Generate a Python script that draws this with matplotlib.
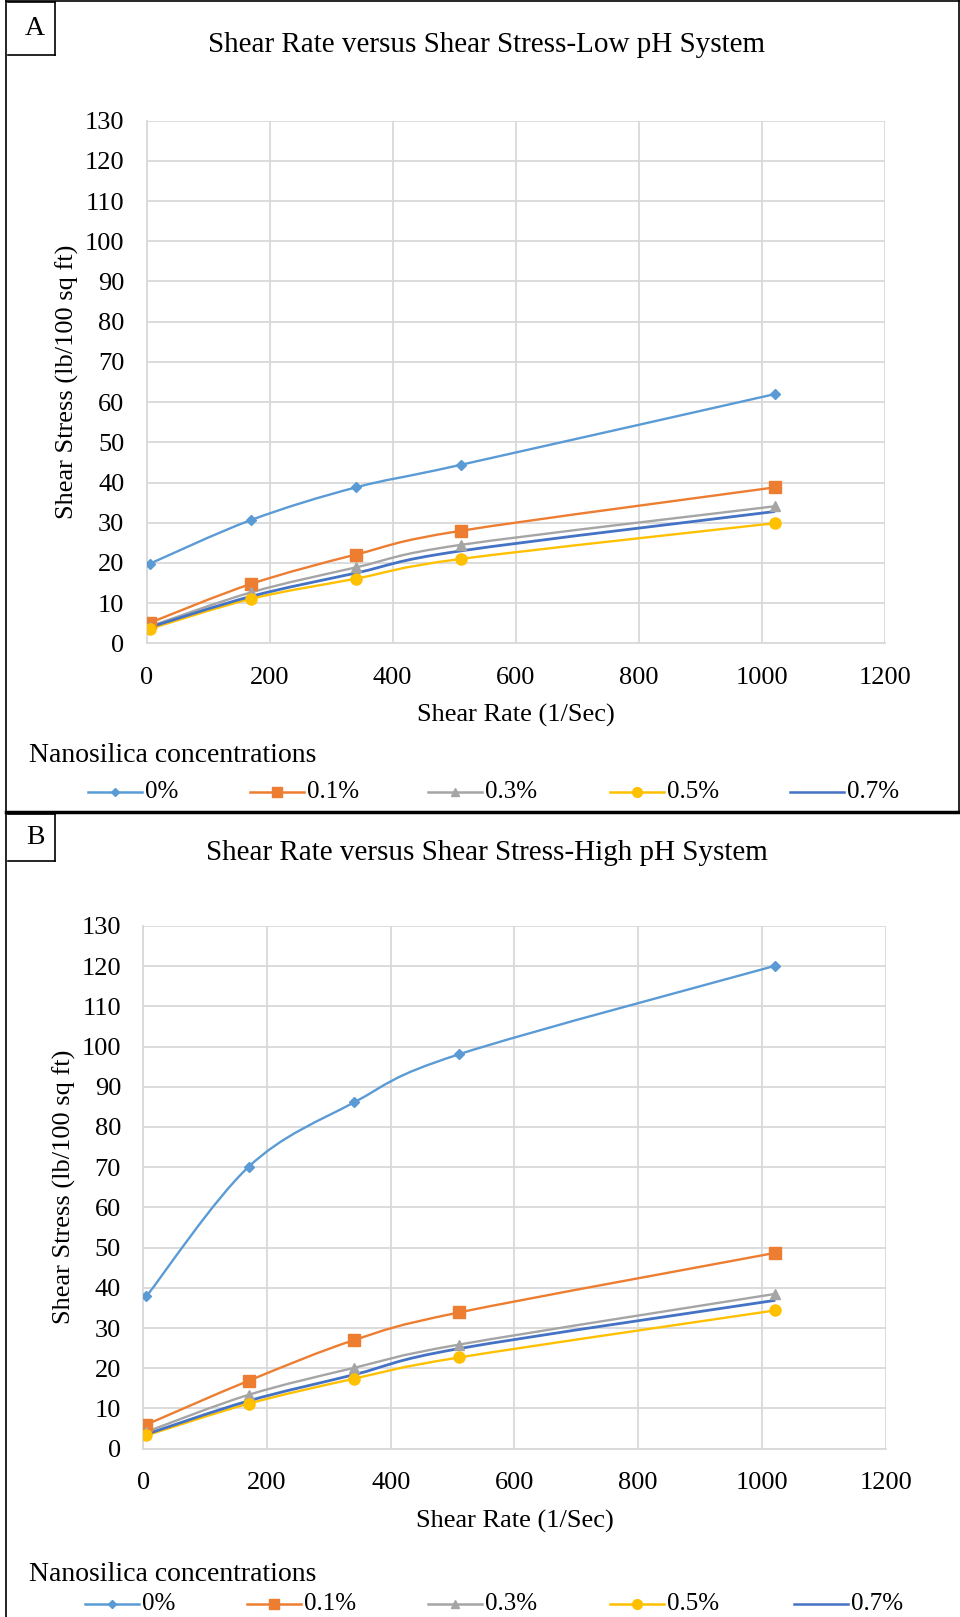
import numpy as np
import matplotlib
matplotlib.use("Agg")
import matplotlib.pyplot as plt
from matplotlib.path import Path
from matplotlib.patches import PathPatch
from matplotlib.lines import Line2D

plt.rcParams['font.family'] = ['Liberation Serif', 'DejaVu Serif']

# shear rates (1/sec)
shear_rate = [5.11, 170.3, 340.6, 510.9, 1021.8]
labels = ['0%', '0.1%', '0.3%', '0.5%', '0.7%']

# low pH system
low_0 = [19.8, 30.7, 38.8, 44.4, 62.0]
low_01 = [5.1, 14.8, 22.1, 28.0, 38.8]
low_03 = [4.2, 12.7, 18.9, 24.5, 34.1]
low_05 = [3.6, 11.1, 16.1, 21.0, 29.9]
low_07 = [4.0, 11.7, 17.5, 23.0, 32.8]

# high pH system
high_0 = [37.9, 70.1, 86.1, 98.1, 120.1]
high_01 = [6.0, 16.9, 27.0, 33.9, 48.7]
high_03 = [4.2, 13.4, 20.1, 25.9, 38.5]
high_05 = [3.3, 11.2, 17.4, 22.7, 34.4]
high_07 = [3.6, 11.9, 18.4, 24.9, 36.9]

colors = ['#5B9BD5', '#ED7D31', '#A5A5A5', '#FFC000', '#4472C4']
markers = ['D', 's', '^', 'o', None]
msizes = [5, 8, 7, 8, 0]


def smooth_path(x, y):
    # excel-like smoothed line: catmull-rom as cubic bezier segments
    x = np.asarray(x, float)
    y = np.asarray(y, float)
    pts = np.column_stack([x, y])
    n = len(pts)
    verts = [pts[0]]
    codes = [Path.MOVETO]
    for i in range(n - 1):
        p0 = pts[i - 1] if i > 0 else pts[i]
        p1 = pts[i]
        p2 = pts[i + 1]
        p3 = pts[i + 2] if i + 2 < n else pts[i + 1]
        c1 = p1 + (p2 - p0) / 6.0
        c2 = p2 - (p3 - p1) / 6.0
        verts += [c1, c2, p2]
        codes += [Path.CURVE4] * 3
    return Path(verts, codes)


def draw_panel(ax, series):
    for vals, c, m, ms in zip(series, colors, markers, msizes):
        lw = 2.0 if c == '#4472C4' else 1.7
        ax.add_patch(PathPatch(smooth_path(shear_rate, vals), fill=False,
                               edgecolor=c, lw=lw, zorder=3))
        if m is not None:
            ax.plot(shear_rate, vals, ls='none', marker=m, ms=ms, color=c,
                    zorder=4)
    ax.set_xlim(0, 1200)
    ax.set_ylim(0, 130)
    ax.set_xticks(range(0, 1201, 200))
    ax.set_yticks(range(0, 131, 10))
    ax.grid(True, color='#D9D9D9', lw=1.3)
    ax.set_axisbelow(True)
    for s in ['top', 'right']:
        ax.spines[s].set_visible(False)
    for s in ['left', 'bottom']:
        ax.spines[s].set_color('#D9D9D9')
        ax.spines[s].set_linewidth(1.3)
    ax.tick_params(length=0, labelsize=19)
    ax.tick_params(axis='x', pad=17)
    ax.tick_params(axis='y', pad=16)
    ax.set_xlabel('Shear Rate (1/Sec)', fontsize=19, labelpad=11)
    ax.set_ylabel('Shear Stress (lb/100 sq ft)', fontsize=19, labelpad=4)


fig = plt.figure(figsize=(9.6, 16.17), dpi=100)
W, H = 960.0, 1617.0

def fx(px):
    return px / W

def fy(py):
    return 1 - py / H

axA = fig.add_axes([fx(146.5), fy(643.4), fx(884.6 - 146.5), (643.4 - 120.6) / H])
axB = fig.add_axes([fx(143.3), fy(1448.7), fx(885.6 - 143.3), (1448.7 - 925.9) / H])

draw_panel(axA, [low_0, low_01, low_03, low_05, low_07])
draw_panel(axB, [high_0, high_01, high_03, high_05, high_07])

fig.text(fx(487), fy(45), 'Shear Rate versus Shear Stress-Low pH System',
         ha='center', va='center', fontsize=21)
fig.text(fx(487), fy(853), 'Shear Rate versus Shear Stress-High pH System',
         ha='center', va='center', fontsize=21)

# frames
def fline(x0, y0, x1, y1, lw=1.2):
    fig.add_artist(Line2D([fx(x0), fx(x1)], [fy(y0), fy(y1)], color='black',
                          lw=lw))

fline(6, 1, 959, 1)
fline(6, 1, 6, 1617)
fline(959, 1, 959, 812)
fline(6, 812, 960, 812, lw=2.5)

# panel letter boxes
for letter, y0, y1 in [('A', 2, 55), ('B', 814, 861)]:
    fline(8, y0, 55, y0)
    fline(55, y0, 55, y1)
    fline(8, y1, 55, y1)
    fig.text(fx(35), fy((y0 + y1) / 2), letter, ha='center', va='center',
             fontsize=20)

# legends
def legend(title_y, entry_y, starts):
    fig.text(fx(29), fy(title_y), 'Nanosilica concentrations', ha='left',
             va='center', fontsize=20)
    for lab, c, m, ms, x0 in zip(labels, colors, markers, msizes, starts):
        x1 = x0 + 54
        fig.add_artist(Line2D([fx(x0), fx(x1)], [fy(entry_y)] * 2, color=c,
                              lw=1.8))
        if m is not None:
            fig.add_artist(Line2D([fx((x0 + x1) / 2)], [fy(entry_y)],
                                  marker=m, ms=ms - 1, color=c, ls='none'))
        fig.text(fx(x1 + 3), fy(entry_y), lab, ha='left', va='center',
                 fontsize=18)

legend(756, 792, [88, 250, 428, 610, 790])
legend(1574, 1604, [85, 247, 428, 610, 794])

fig.savefig('out.png', dpi=100)
